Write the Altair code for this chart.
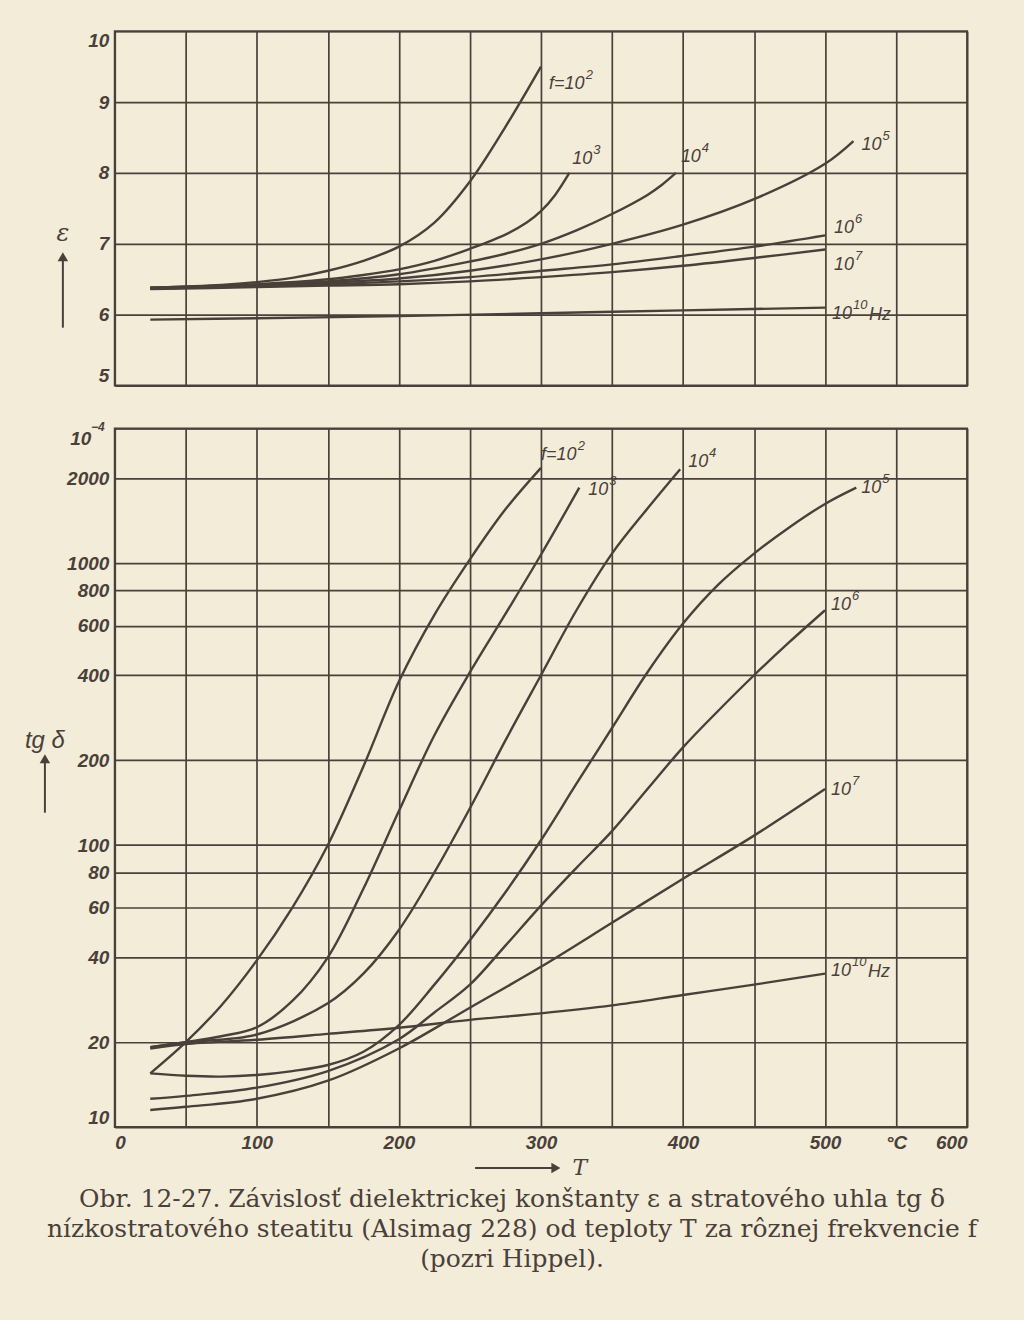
import altair as alt
import pandas as pd

INK = '#4a403a'
PAPER = '#f3ecd9'
LABEL_FONT = 'Liberation Sans'
SERIF = 'DejaVu Serif'

# ---------------- upper panel: permittivity eps vs temperature T (deg C) -------------
T_EPS_2 = [25, 75, 100, 125, 150, 175, 200, 225, 250, 275, 300]
EPS_2 = [6.38, 6.42, 6.46, 6.52, 6.62, 6.76, 6.96, 7.3, 7.88, 8.65, 9.5]
T_EPS_3 = [25, 100, 150, 175, 200, 225, 250, 275, 290, 300, 310, 320]
EPS_3 = [6.38, 6.43, 6.5, 6.56, 6.64, 6.76, 6.93, 7.13, 7.3, 7.46, 7.69, 8.0]
T_EPS_4 = [25, 100, 150, 200, 250, 275, 300, 325, 350, 375, 385, 395]
EPS_4 = [6.38, 6.42, 6.47, 6.57, 6.75, 6.86, 7.0, 7.19, 7.42, 7.69, 7.83, 8.0]
T_EPS_5 = [25, 100, 150, 200, 250, 300, 350, 400, 450, 500, 520]
EPS_5 = [6.37, 6.41, 6.45, 6.51, 6.62, 6.78, 7.0, 7.27, 7.63, 8.13, 8.45]
T_EPS_6 = [25, 100, 150, 200, 250, 300, 350, 400, 450, 500]
EPS_6 = [6.37, 6.4, 6.43, 6.47, 6.53, 6.62, 6.71, 6.83, 6.96, 7.12]
T_EPS_7 = [25, 100, 150, 200, 250, 300, 350, 400, 450, 500]
EPS_7 = [6.36, 6.39, 6.41, 6.43, 6.47, 6.53, 6.6, 6.69, 6.8, 6.92]
T_EPS_10 = [25, 100, 200, 300, 400, 500]
EPS_10 = [5.93, 5.95, 5.98, 6.02, 6.06, 6.1]

# ---------------- lower panel: tg delta (x 10^-4) vs T ----------------
T_TG_2 = [25, 50, 75, 100, 125, 150, 175, 200, 225, 250, 275, 300]
TG_2 = [15.5, 20, 27, 39, 60, 100, 190, 380, 655, 1030, 1550, 2175]
T_TG_3 = [25, 50, 75, 100, 125, 150, 175, 200, 225, 250, 275, 300, 327]
TG_3 = [19.2, 20, 21, 22.6, 28, 40, 70, 132, 245, 410, 660, 1070, 1850]
T_TG_4 = [25, 50, 100, 150, 175, 200, 225, 250, 275, 300, 325, 350, 375, 398]
TG_4 = [19.2, 20, 21.3, 27.5, 35, 50, 80, 135, 235, 400, 680, 1080, 1560, 2150]
T_TG_5 = [25, 50, 75, 100, 125, 150, 175, 200, 225, 250, 275, 300, 325, 350, 375, 400, 425, 450, 475, 500, 522]
TG_5 = [15.5, 15.2, 15.1, 15.3, 15.8, 16.6, 18.5, 23, 32, 46, 68, 104, 165, 260, 410, 610, 840, 1080, 1340, 1620, 1850]
T_TG_6 = [25, 50, 100, 150, 200, 225, 250, 275, 300, 325, 350, 375, 400, 425, 450, 475, 500]
TG_6 = [12.6, 12.9, 13.8, 15.8, 20.5, 25.5, 32, 44, 61, 83, 112, 158, 222, 300, 400, 525, 680]
T_TG_7 = [25, 50, 100, 150, 200, 250, 300, 350, 400, 450, 500]
TG_7 = [11.5, 11.8, 12.6, 14.6, 19, 26.5, 37, 53, 76, 108, 158]
T_TG_10 = [25, 50, 100, 150, 200, 250, 300, 350, 400, 450, 500]
TG_10 = [19, 19.7, 20.4, 21.4, 22.5, 24, 25.3, 27, 29.4, 32, 35]

SERIES = ['1e2', '1e3', '1e4', '1e5', '1e6', '1e7', '1e10']
LABEL_BASE = ['f=10', '10', '10', '10', '10', '10', '10']
LABEL_EXP = ['2', '3', '4', '5', '6', '7', '10']
LABEL_SUFFIX = ['', '', '', '', '', '', 'Hz']

X_GRID = list(range(0, 601, 50))
EPS_TICKS = [5, 6, 7, 8, 9, 10]
TG_TICKS = [10, 20, 40, 60, 80, 100, 200, 400, 600, 800, 1000, 2000, 3000]
TG_UNIT = ('10', '−4')

CAPTION = [
    'Obr. 12-27. Závislosť dielektrickej konštanty ε a stratového uhla tg δ',
    'nízkostratového steatitu (Alsimag 228) od teploty T za rôznej frekvencie f',
    '(pozri Hippel).',
]

eps_data = dict(zip(SERIES, [(T_EPS_2, EPS_2), (T_EPS_3, EPS_3), (T_EPS_4, EPS_4), (T_EPS_5, EPS_5),
                             (T_EPS_6, EPS_6), (T_EPS_7, EPS_7), (T_EPS_10, EPS_10)]))
tg_data = dict(zip(SERIES, [(T_TG_2, TG_2), (T_TG_3, TG_3), (T_TG_4, TG_4), (T_TG_5, TG_5),
                            (T_TG_6, TG_6), (T_TG_7, TG_7), (T_TG_10, TG_10)]))


def frame(d):
    rows = []
    for name, (ts, vs) in d.items():
        for t, v in zip(ts, vs):
            rows.append({'series': name, 'T': t, 'v': v})
    return pd.DataFrame(rows)


W = 854
H_TOP = 355
H_BOT = 700

dummy = pd.DataFrame({'a': [0]})


def txt(df, xenc, yenc, dx, dy, size):
    return alt.Chart(df).mark_text(align='left', baseline='middle', dx=dx, dy=dy, font=LABEL_FONT,
                                   fontStyle='italic', fontSize=size, color=INK).encode(
        x=xenc, y=yenc, text='lab:N')


def curve_labels(d, xenc, yenc, offsets):
    layers = []
    for name, base, exp, suf in zip(SERIES, LABEL_BASE, LABEL_EXP, LABEL_SUFFIX):
        ts, vs = d[name]
        dx, dy = offsets[name]
        w = 36 if base.startswith('f') else 20
        end = {'T': [ts[-1]], 'v': [vs[-1]]}
        layers.append(txt(pd.DataFrame(dict(end, lab=[base])), xenc, yenc, dx, dy, 18))
        layers.append(txt(pd.DataFrame(dict(end, lab=[exp])), xenc, yenc, dx + w + 1, dy - 9, 13))
        if suf:
            layers.append(txt(pd.DataFrame(dict(end, lab=[suf])), xenc, yenc, dx + w + 17, dy + 1, 18))
    return layers


def deco_text(text, x, y, size, font=LABEL_FONT, style='italic', align='center', weight='normal'):
    return alt.Chart(pd.DataFrame({'t': [text]})).mark_text(
        font=font, fontSize=size, fontStyle=style, fontWeight=weight, color=INK, align=align,
        baseline='middle'
    ).encode(text='t:N', x=alt.value(x), y=alt.value(y))


def vrule(x, y1, y2):
    return alt.Chart(dummy).mark_rule(color=INK, strokeWidth=2).encode(
        x=alt.value(x), y=alt.value(y1), y2=alt.value(y2))


def head(x, y, shape):
    return alt.Chart(dummy).mark_point(shape=shape, filled=True, size=110, color=INK, opacity=1).encode(
        x=alt.value(x), y=alt.value(y))


# ---------- top panel ----------
x_top = alt.X('T:Q', scale=alt.Scale(domain=[0, 600], nice=False),
              axis=alt.Axis(values=X_GRID, labels=False, ticks=False, domain=False, grid=True, title=None))
y_top = alt.Y('v:Q', scale=alt.Scale(domain=[5, 10], nice=False, zero=False),
              axis=alt.Axis(values=EPS_TICKS, ticks=False, domain=False, grid=True, title=None,
                            labelFlush=True, labelPadding=6))

top_lines = alt.Chart(frame(eps_data)).mark_line(color=INK, strokeWidth=2.4, interpolate='catmull-rom').encode(
    x=x_top, y=y_top, detail='series:N')

top_offsets = {'1e2': (8, 17), '1e3': (3, -14), '1e4': (5, -16), '1e5': (8, 4),
               '1e6': (9, -7), '1e7': (9, 16), '1e10': (7, 6)}
top_layers = [top_lines] + curve_labels(eps_data, x_top, y_top, top_offsets) + [
    deco_text('ε', -52, 203, 24, font='DejaVu Serif'),
    vrule(-52, 228, 297),
    head(-52, 226, 'triangle-up'),
]
top = alt.layer(*top_layers).properties(width=W, height=H_TOP)

# ---------- bottom panel ----------
x_bot = alt.X('T:Q', scale=alt.Scale(domain=[0, 600], nice=False),
              axis=alt.Axis(values=X_GRID, ticks=False, domain=False, grid=True, title=None,
                            labelFlush=True, labelPadding=6,
                            labelExpr="datum.value == 550 ? '°C' : (datum.value % 100 == 0 ? format(datum.value, 'd') : '')"))
y_bot = alt.Y('v:Q', scale=alt.Scale(type='log', domain=[10, 3000], nice=False),
              axis=alt.Axis(values=TG_TICKS, ticks=False, domain=False, grid=True, title=None,
                            labelFlush=True, labelPadding=6,
                            labelExpr="datum.value == 3000 ? '' : format(datum.value, 'd')"))

bot_lines = alt.Chart(frame(tg_data)).mark_line(color=INK, strokeWidth=2.4, interpolate='catmull-rom').encode(
    x=x_bot, y=y_bot, detail='series:N')

bot_offsets = {'1e2': (0, -13), '1e3': (9, 2), '1e4': (8, -7), '1e5': (5, 0),
               '1e6': (6, -5), '1e7': (6, 1), '1e10': (6, -3)}
bot_layers = [
    # invisible frame that fixes the page extent (0..1024 x 0..1320)
    alt.Chart(dummy).mark_rect(opacity=0).encode(
        x=alt.value(-114), x2=alt.value(910), y=alt.value(-427), y2=alt.value(893)),
    bot_lines,
] + curve_labels(tg_data, x_bot, y_bot, bot_offsets) + [
    deco_text(TG_UNIT[0], -34, 11, 19, weight='bold'),
    deco_text(TG_UNIT[1], -17, -1, 12, weight='bold'),
    deco_text('tg δ', -70, 313, 24),
    vrule(-70, 333, 385),
    head(-70, 331, 'triangle-up'),
    alt.Chart(dummy).mark_rule(color=INK, strokeWidth=2).encode(
        x=alt.value(361), x2=alt.value(440), y=alt.value(741)),
    head(442, 741, 'triangle-right'),
    deco_text('T', 466, 741, 22, font='DejaVu Serif'),
]
for i, line in enumerate(CAPTION):
    bot_layers.append(deco_text(line, 398, 772 + 30 * i, 25, font=SERIF, style='normal'))
bottom = alt.layer(*bot_layers).properties(width=W, height=H_BOT)

chart = alt.vconcat(top, bottom, spacing=43, bounds='flush').properties(
    padding={'left': 0, 'top': 0, 'right': 0, 'bottom': 0}
).configure(background=PAPER).configure_view(
    stroke=INK, strokeWidth=2
).configure_axis(
    gridColor=INK, gridWidth=1.7, gridOpacity=1, labelColor=INK, labelFont=LABEL_FONT,
    labelFontSize=19, labelFontStyle='italic', labelFontWeight='bold'
)

chart.save('out.html', embed_options={'renderer': 'svg', 'actions': False})
